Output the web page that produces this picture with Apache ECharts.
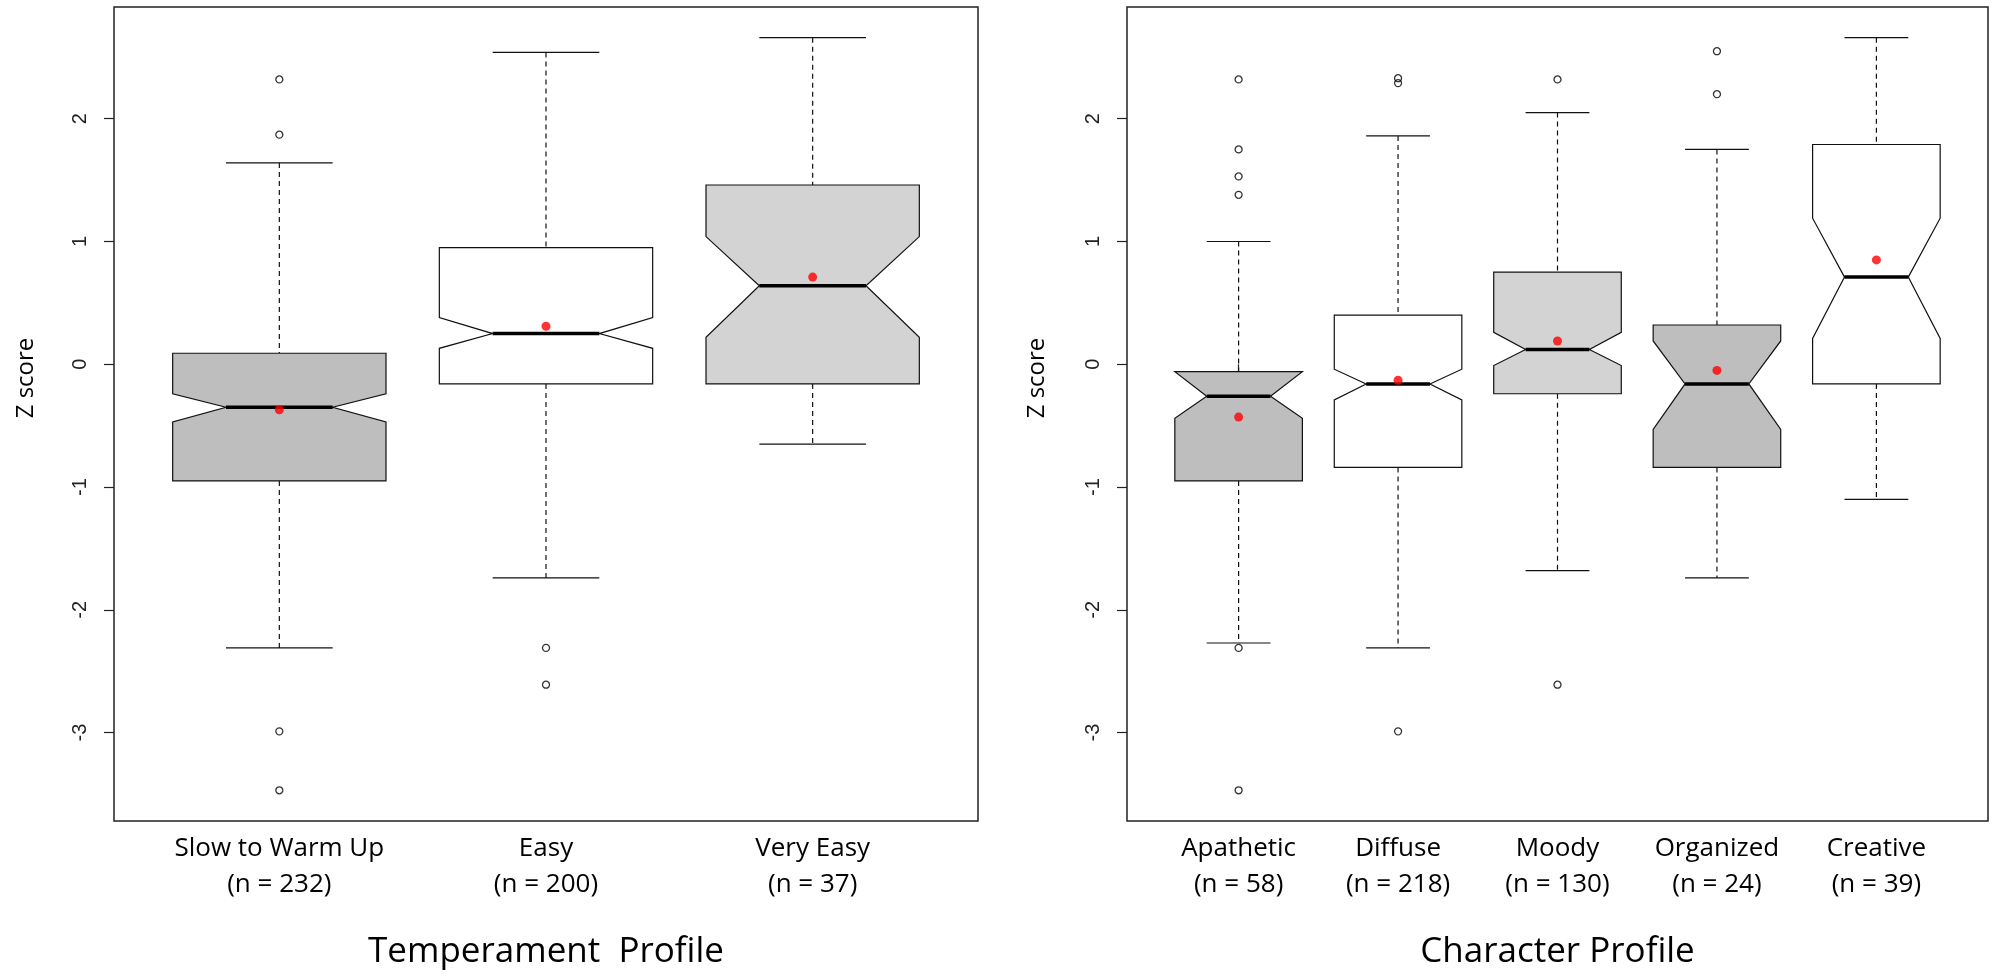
<!DOCTYPE html>
<html>
<head>
<meta charset="utf-8">
<script src="https://cdn.jsdelivr.net/npm/echarts@6/dist/echarts.min.js"></script>
<style>
    html, body { margin: 0; padding: 0; background: #fff; }
    #profileChart { width: 1995px; height: 977px; }
</style>
</head>
<body>
<div id="profileChart"></div>
<script>
// temperament profile (left panel)
const tempCategories = ['Slow to Warm Up', 'Easy', 'Very Easy'];
const tempCounts = [232, 200, 37];
const tempLowerWhisker = [-2.31, -1.74, -0.65];
const tempQ1 = [-0.95, -0.16, -0.16];
const tempNotchLow = [-0.47, 0.13, 0.22];
const tempMedian = [-0.35, 0.25, 0.64];
const tempNotchHigh = [-0.24, 0.38, 1.04];
const tempQ3 = [0.09, 0.95, 1.46];
const tempUpperWhisker = [1.64, 2.54, 2.66];
const tempMean = [-0.37, 0.31, 0.71];
const tempOutliers = [[1, 2.32], [1, 1.87], [1, -2.99], [1, -3.47], [2, -2.31], [2, -2.61]];

// character profile (right panel)
const charCategories = ['Apathetic', 'Diffuse', 'Moody', 'Organized', 'Creative'];
const charCounts = [58, 218, 130, 24, 39];
const charLowerWhisker = [-2.27, -2.31, -1.68, -1.74, -1.10];
const charQ1 = [-0.95, -0.84, -0.24, -0.84, -0.16];
const charNotchLow = [-0.44, -0.29, -0.01, -0.53, 0.21];
const charMedian = [-0.26, -0.16, 0.12, -0.16, 0.71];
const charNotchHigh = [-0.06, -0.04, 0.26, 0.19, 1.19];
const charQ3 = [-0.06, 0.40, 0.75, 0.32, 1.79];
const charUpperWhisker = [1.00, 1.86, 2.05, 1.75, 2.66];
const charMean = [-0.43, -0.13, 0.19, -0.05, 0.85];
const charOutliers = [
    [1, 2.32], [1, 1.75], [1, 1.53], [1, 1.38], [1, -2.31], [1, -3.47],
    [2, 2.33], [2, 2.29], [2, -2.99],
    [3, 2.32], [3, -2.61],
    [4, 2.55], [4, 2.20]
];

const yTicks = [-3, -2, -1, 0, 1, 2];
const yMin = -3.72;
const yMax = 2.91;

// box fills, one per box
const tempFills = ['#bebebe', '#ffffff', '#d3d3d3'];
const charFills = ['#bebebe', '#ffffff', '#d3d3d3', '#bebebe', '#ffffff'];

window.onload = () => {
    new ProfileBoxChart().main();
};

class ProfileBoxChart {
    chart;

    main() {
        this.chart = echarts.init(document.getElementById('profileChart'));
        this.chart.setOption(this.buildOption());
    }

    boxRows(lowW, q1, nLo, med, nHi, q3, upW) {
        return med.map((m, i) => [i + 1, lowW[i], q1[i], nLo[i], m, nHi[i], q3[i], upW[i]]);
    }

    makeRenderer(fills) {
        return (params, api) => {
            let x = api.value(0);
            let pt = (dx, v) => api.coord([x + dx, api.value(v)]);
            let line = (a, b, style) => ({
                type: 'line',
                shape: { x1: a[0], y1: a[1], x2: b[0], y2: b[1] },
                style: Object.assign({ stroke: '#111', lineWidth: 1.2 }, style)
            });
            // value indexes: 1 lowW, 2 q1, 3 notchLow, 4 median, 5 notchHigh, 6 q3, 7 upW
            let poly = [
                pt(-0.4, 2), pt(-0.4, 3), pt(-0.2, 4), pt(-0.4, 5), pt(-0.4, 6),
                pt(0.4, 6), pt(0.4, 5), pt(0.2, 4), pt(0.4, 3), pt(0.4, 2)
            ];
            return {
                type: 'group',
                children: [
                    line(pt(0, 7), pt(0, 6), { lineDash: [5, 4] }),
                    line(pt(0, 2), pt(0, 1), { lineDash: [5, 4] }),
                    line(pt(-0.2, 7), pt(0.2, 7), {}),
                    line(pt(-0.2, 1), pt(0.2, 1), {}),
                    {
                        type: 'polygon',
                        shape: { points: poly },
                        style: { fill: fills[params.dataIndex], stroke: '#111', lineWidth: 1.2 }
                    },
                    line(pt(-0.2, 4), pt(0.2, 4), { stroke: '#000', lineWidth: 3.5 })
                ]
            };
        };
    }

    xAxisFor(gridIndex, categories, counts) {
        let ticks = categories.map((c, i) => i + 1);
        return {
            type: 'value',
            gridIndex: gridIndex,
            min: 0.5 - 0.04 * categories.length,
            max: categories.length + 0.5 + 0.04 * categories.length,
            axisLine: { show: false },
            splitLine: { show: false },
            axisTick: { show: true, length: 10, customValues: ticks, lineStyle: { color: '#222', width: 1.2 } },
            axisLabel: {
                customValues: ticks,
                margin: 10,
                fontFamily: 'Open Sans',
                fontSize: 26,
                lineHeight: 36,
                color: '#000',
                formatter: v => categories[Math.round(v) - 1] + '\n(n = ' + counts[Math.round(v) - 1] + ')'
            },
            nameLocation: 'middle',
            nameGap: 111,
            nameTextStyle: { fontFamily: 'Open Sans', fontSize: 35, lineHeight: 40, color: '#000' }
        };
    }

    yAxisFor(gridIndex) {
        return {
            type: 'value',
            gridIndex: gridIndex,
            min: yMin,
            max: yMax,
            axisLine: { show: false },
            splitLine: { show: false },
            axisTick: { show: true, length: 10, customValues: yTicks, lineStyle: { color: '#222', width: 1.2 } },
            axisLabel: {
                customValues: yTicks,
                rotate: 90,
                margin: 24,
                fontFamily: 'Liberation Sans',
                fontSize: 20,
                color: '#222'
            }
        };
    }

    buildOption() {
        let xTemp = this.xAxisFor(0, tempCategories, tempCounts);
        xTemp.name = 'Temperament  Profile';
        let xChar = this.xAxisFor(1, charCategories, charCounts);
        xChar.name = 'Character Profile';

        let yLabel = (x) => ({
            type: 'text',
            x: x,
            y: 378,
            rotation: Math.PI / 2,
            style: {
                text: 'Z score',
                fontFamily: 'Open Sans',
                fontSize: 24,
                fill: '#000',
                textAlign: 'center',
                textVerticalAlign: 'middle'
            }
        });

        let outlierStyle = { color: 'rgba(0,0,0,0)', borderColor: '#000', borderWidth: 1.3 };

        return {
            animation: false,
            backgroundColor: '#fff',
            grid: [
                { left: 114, top: 7, width: 864, height: 817, show: true, borderColor: '#222', borderWidth: 1.5, backgroundColor: 'transparent' },
                { left: 1127, top: 7, width: 861, height: 817, show: true, borderColor: '#222', borderWidth: 1.5, backgroundColor: 'transparent' }
            ],
            xAxis: [xTemp, xChar],
            yAxis: [this.yAxisFor(0), this.yAxisFor(1)],
            graphic: [yLabel(26), yLabel(1037)],
            series: [
                {
                    type: 'custom',
                    xAxisIndex: 0,
                    yAxisIndex: 0,
                    renderItem: this.makeRenderer(tempFills),
                    encode: { x: 0, y: [1, 2, 3, 4, 5, 6, 7] },
                    data: this.boxRows(tempLowerWhisker, tempQ1, tempNotchLow, tempMedian, tempNotchHigh, tempQ3, tempUpperWhisker),
                    z: 2
                },
                {
                    type: 'custom',
                    xAxisIndex: 1,
                    yAxisIndex: 1,
                    renderItem: this.makeRenderer(charFills),
                    encode: { x: 0, y: [1, 2, 3, 4, 5, 6, 7] },
                    data: this.boxRows(charLowerWhisker, charQ1, charNotchLow, charMedian, charNotchHigh, charQ3, charUpperWhisker),
                    z: 2
                },
                {
                    type: 'scatter',
                    xAxisIndex: 0,
                    yAxisIndex: 0,
                    symbol: 'circle',
                    symbolSize: 7,
                    itemStyle: outlierStyle,
                    data: tempOutliers,
                    z: 3
                },
                {
                    type: 'scatter',
                    xAxisIndex: 1,
                    yAxisIndex: 1,
                    symbol: 'circle',
                    symbolSize: 7,
                    itemStyle: outlierStyle,
                    data: charOutliers,
                    z: 3
                },
                {
                    type: 'scatter',
                    xAxisIndex: 0,
                    yAxisIndex: 0,
                    symbolSize: 9,
                    itemStyle: { color: '#ff0000' },
                    data: tempMean.map((m, i) => [i + 1, m]),
                    z: 4
                },
                {
                    type: 'scatter',
                    xAxisIndex: 1,
                    yAxisIndex: 1,
                    symbolSize: 9,
                    itemStyle: { color: '#ff0000' },
                    data: charMean.map((m, i) => [i + 1, m]),
                    z: 4
                }
            ]
        };
    }
}
</script>
</body>
</html>
